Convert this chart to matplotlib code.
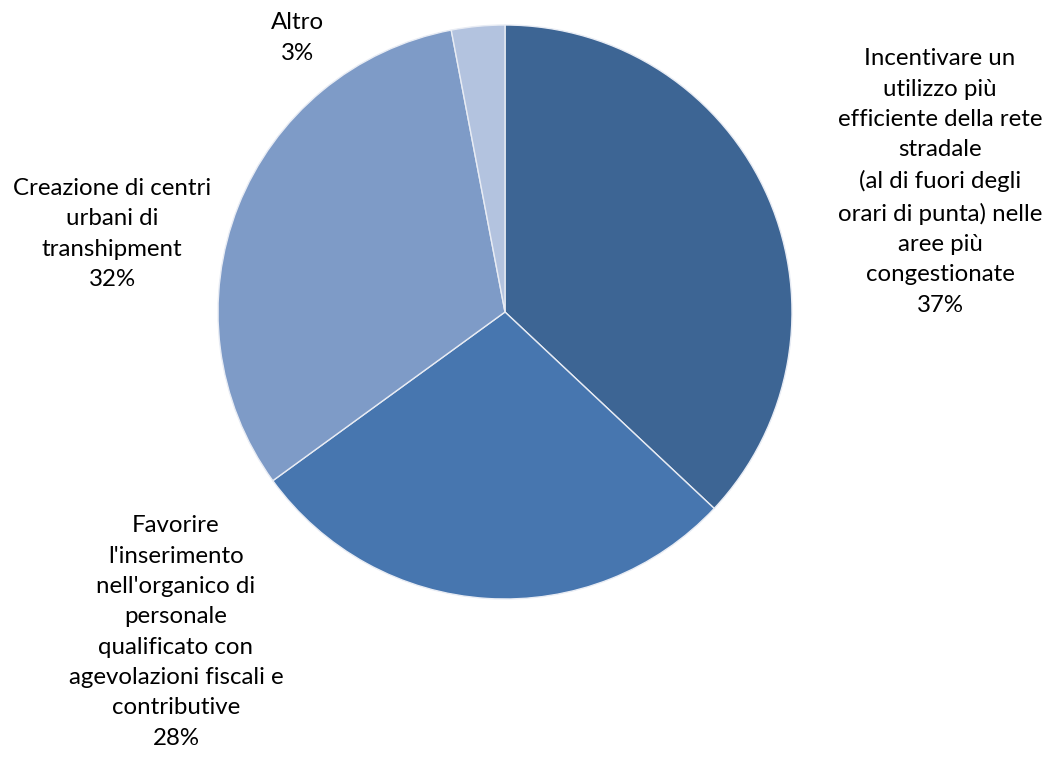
import matplotlib
matplotlib.use("Agg")
import matplotlib.pyplot as plt

labels = [
    "Incentivare un\nutilizzo più\nefficiente della rete\nstradale\n(al di fuori degli\norari di punta) nelle\naree più\ncongestionate",
    "Favorire\nl'inserimento\nnell'organico di\npersonale\nqualificato con\nagevolazioni fiscali e\ncontributive",
    "Creazione di centri\nurbani di\ntranshipment",
    "Altro",
]
values = [37, 28, 32, 3]
colors = ["#3D6594", "#4776AF", "#7E9BC7", "#B3C3DF"]
label_pos = [(940, 182), (176, 632), (112, 234), (297, 38)]

W, H = 1053, 758
plt.rcParams['font.family'] = ['Lato', 'DejaVu Sans']
fig = plt.figure(figsize=(W / 100, H / 100), dpi=100)
ax = fig.add_axes([0, 0, 1, 1])
ax.pie(values, colors=colors, startangle=90, counterclock=False,
       center=(505, H - 312), radius=287,
       wedgeprops=dict(edgecolor="#E8ECF4", linewidth=1.0))
ax.set_xlim(0, W)
ax.set_ylim(0, H)
ax.set_aspect('equal')
ax.axis('off')
for lab, v, (x, y) in zip(labels, values, label_pos):
    ax.text(x, H - y, f"{lab}\n{v}%", ha='center', va='center', fontsize=17.3,
            linespacing=1.55, color='black')
fig.savefig("out.png", dpi=100)
